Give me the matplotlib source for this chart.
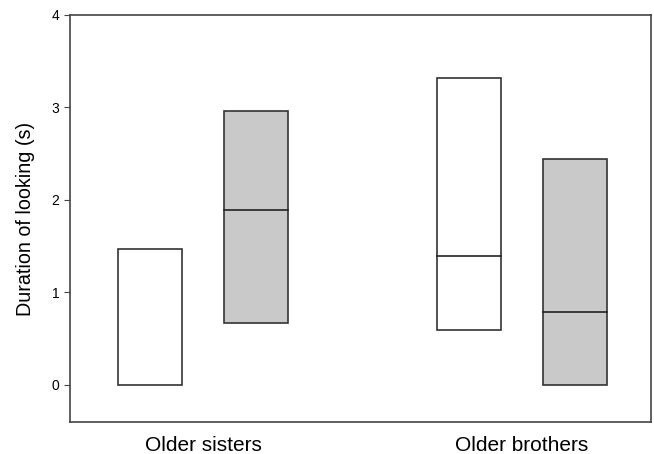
import matplotlib
matplotlib.use("Agg")
import matplotlib.pyplot as plt
import numpy as np

plt.rcParams["font.family"] = ["Liberation Sans", "DejaVu Sans"]

groups = ["Older sisters", "Older brothers"]
# per group: [white, gray]
lows = [[0.0, 0.67], [0.59, 0.0]]
highs = [[1.47, 2.96], [3.32, 2.44]]
medians = [[None, 1.89], [1.39, 0.79]]
fills = ["white", "#c9c9c9"]

fig = plt.figure(figsize=(6.54, 4.54), dpi=100)
ax = fig.add_axes([0.107, 0.0705, 0.8884, 0.8965])

x = np.arange(len(groups))
offs = [-0.166, 0.166]
w = 0.2
for i in range(len(groups)):
    for j in range(2):
        ax.bar(x[i] + offs[j], highs[i][j] - lows[i][j], bottom=lows[i][j], width=w,
               color=fills[j], edgecolor="#333333", linewidth=1.2)
        if medians[i][j] is not None:
            ax.plot([x[i] + offs[j] - w / 2, x[i] + offs[j] + w / 2],
                    [medians[i][j]] * 2, color="#222222", lw=1.2)

ax.set_xlim(-0.417, 1.404)
ax.set_ylim(-0.4, 4)
ax.set_yticks([0, 1, 2, 3, 4])
ax.set_xticks(x)
ax.set_xticklabels(groups, fontsize=15)
ax.tick_params(axis="x", length=0, pad=10)
ax.tick_params(axis="y", labelsize=10, length=4, color="#444444")
ax.set_ylabel("Duration of looking (s)", fontsize=14.2, labelpad=12)
for s in ax.spines.values():
    s.set_color("#444444")
    s.set_linewidth(1.2)

fig.savefig("out.png", dpi=100)
